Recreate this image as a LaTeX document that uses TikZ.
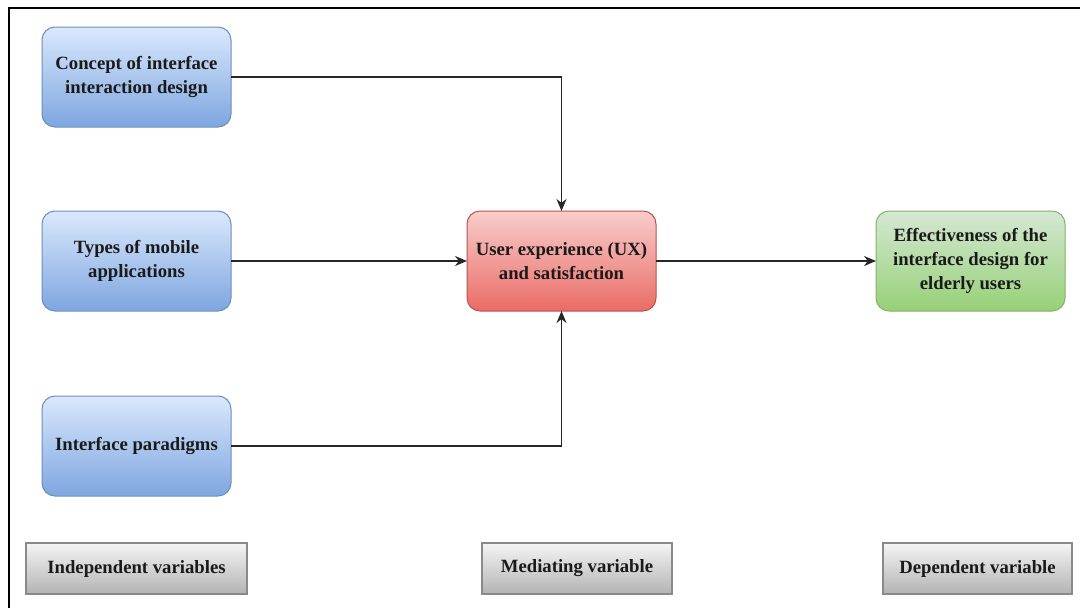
\documentclass[tikz,border=0pt]{standalone}
\usepackage{fontspec}
\setmainfont{Liberation Serif}
\usetikzlibrary{arrows.meta}
\definecolor{bluetop}{HTML}{DAE8FC}
\definecolor{bluebot}{HTML}{7EA6E0}
\definecolor{bluestroke}{HTML}{6C8EBF}
\definecolor{redtop}{HTML}{F8CECC}
\definecolor{redbot}{HTML}{EA6B66}
\definecolor{redstroke}{HTML}{B85450}
\definecolor{greentop}{HTML}{D5E8D4}
\definecolor{greenbot}{HTML}{97D077}
\definecolor{greenstroke}{HTML}{82B366}
\definecolor{graytop}{HTML}{F5F5F5}
\definecolor{graybot}{HTML}{B3B3B3}
\definecolor{graystroke}{HTML}{8A8A8A}
\definecolor{txt}{HTML}{1A1A1A}
\tikzset{
  varbox/.style={rounded corners=13pt, minimum width=189pt, minimum height=100pt,
    inner sep=0pt, outer sep=0pt, align=center, line width=1pt, text=txt,
    font=\fontsize{18.7}{24}\selectfont\bfseries},
  bluebox/.style={varbox, draw=bluestroke, top color=bluetop, bottom color=bluebot},
  redbox/.style={varbox, draw=redstroke, top color=redtop, bottom color=redbot},
  greenbox/.style={varbox, draw=greenstroke, top color=greentop, bottom color=greenbot},
  labelbox/.style={draw=graystroke, line width=1.2pt, top color=graytop, bottom color=graybot,
    minimum height=51pt, inner sep=0pt, outer sep=0pt, text=txt,
    font=\fontsize{18.7}{24}\selectfont\bfseries},
  conn/.style={line width=1.2pt, draw=black!85, -{Stealth[length=12pt,width=10pt]}}
}
\begin{document}
\begin{tikzpicture}[x=1pt,y=-1pt]
\useasboundingbox (0,0) rectangle (1080,608);
\fill[white] (0,0) rectangle (1080,608);
\draw[line width=2.2pt, black] (9,608) -- (9,8) -- (1080,8);

\node[bluebox] (c1) at (136.5,77) {Concept of interface\\interaction design};
\node[bluebox] (c2) at (136.5,261) {Types of mobile\\applications};
\node[bluebox] (c3) at (136.5,446) {Interface paradigms};
\node[redbox] (ux) at (561.5,261) {User experience (UX)\\and satisfaction};
\node[greenbox] (ef) at (970.5,261) {Effectiveness of the\\interface design for\\elderly users};

\node[labelbox, minimum width=221pt] (l1) at (136.5,568.5) {Independent variables};
\node[labelbox, minimum width=190pt] (l2) at (577,568.5) {Mediating variable};
\node[labelbox, minimum width=189pt] (l3) at (977.5,568.5) {Dependent variable};

\draw[conn] (c1.east) -| (ux.north);
\draw[conn] (c2.east) -- (ux.west);
\draw[conn] (c3.east) -| (ux.south);
\draw[conn] (ux.east) -- (ef.west);
\end{tikzpicture}
\end{document}
